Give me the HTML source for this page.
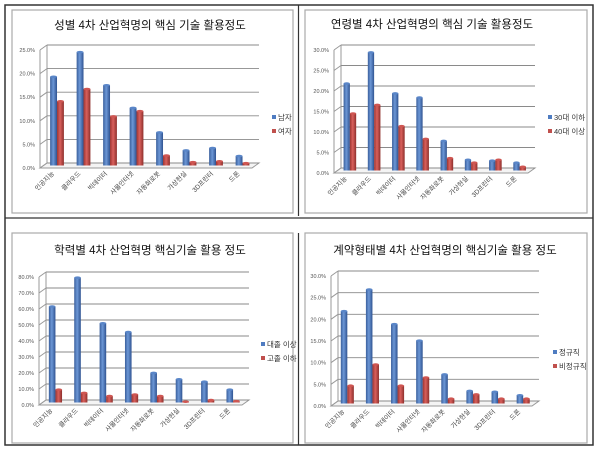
<!DOCTYPE html>
<html><head><meta charset="utf-8">
<style>
html,body{margin:0;padding:0;background:#fff;}
body{width:600px;height:452px;position:relative;overflow:hidden;font-family:"Liberation Sans","Noto Sans CJK KR",sans-serif;}
svg{position:absolute;left:0;top:0;}
</style></head>
<body>
<svg id="root" width="600" height="452">
<defs>
<linearGradient id="gb" x1="0" x2="1" y1="0" y2="0"><stop offset="0" stop-color="#3a5f9c"/><stop offset="0.45" stop-color="#6c97d6"/><stop offset="1" stop-color="#2f5391"/></linearGradient>
<linearGradient id="gr" x1="0" x2="1" y1="0" y2="0"><stop offset="0" stop-color="#9c3431"/><stop offset="0.45" stop-color="#d9605c"/><stop offset="1" stop-color="#8e2f2c"/></linearGradient>
</defs>
<rect x="5" y="5" width="588" height="440" fill="none" stroke="#333" stroke-width="1.5"/>
<line x1="5" y1="218" x2="593" y2="218" stroke="#333" stroke-width="1.2"/>
<line x1="298.5" y1="5" x2="298.5" y2="216" stroke="#333" stroke-width="1.2"/>
<line x1="298.5" y1="233" x2="298.5" y2="445" stroke="#333" stroke-width="1.2"/>
<g id="charts"></g>
</svg>
<script>
const categories = ["인공지능","클라우드","빅데이터","사물인터넷","자동화로봇","가상현실","3D프린터","드론"];
const genderMale = [18.8,24.0,17.0,12.2,7.0,3.2,3.7,2.0];
const genderFemale = [13.6,16.2,10.4,11.5,2.1,0.7,0.9,0.5];
const ageYoung = [21.2,28.8,18.8,17.8,7.2,2.6,2.4,1.9];
const ageOld = [13.9,16.0,10.8,7.7,3.0,1.9,2.6,0.9];
const eduCollege = [60,78,49.5,44,18.5,14.5,13,8];
const eduHigh = [8,6,4,5,4,0.5,1.5,0.8];
const contractRegular = [21.3,26.3,18.3,14.5,6.7,2.9,2.7,1.9];
const contractIrregular = [4.1,9.0,4.1,6.0,1.1,2.1,1.1,1.1];
const ticks25 = [0,5,10,15,20,25];
const ticks30 = [0,5,10,15,20,25,30];
const ticks80 = [0,10,20,30,40,50,60,70,80];

const NS="http://www.w3.org/2000/svg";
const root=document.getElementById('charts');
function mk(tag,attrs,parent){const e=document.createElementNS(NS,tag);for(const k in attrs)e.setAttribute(k,attrs[k]);(parent||root).appendChild(e);return e;}

function drawChart(cfg){
  const g=mk('g',{});
  
  
  const box=mk('rect',{x:cfg.bx,y:cfg.by,width:cfg.bw,height:cfg.bh,fill:'#fff',stroke:'#aaa','stroke-width':1.2},g);
  
  
  const t=mk('text',{x:cfg.tx,y:cfg.ty,'text-anchor':'middle','font-size':11.5,fill:'#111','font-family':'"Liberation Sans","Noto Sans CJK KR",sans-serif'},g);
  t.textContent=cfg.title;
  
  
  const dx=7,dy=5;
  const maxV=cfg.ticks[cfg.ticks.length-1];
  const yS=v=>cfg.y0-(v/maxV)*(cfg.y0-cfg.yTop);
  mk('line',{x1:cfg.ax+dx,y1:yS(maxV)-dy,x2:cfg.ax+dx,y2:cfg.y0-dy,stroke:'#999'},g);
  mk('polygon',{points:`${cfg.ax},${cfg.y0} ${cfg.ax+dx},${cfg.y0-dy} ${cfg.xEnd+dx},${cfg.y0-dy} ${cfg.xEnd},${cfg.y0}`,fill:'#f4f4f4',stroke:'#999'},g);
  mk('line',{x1:cfg.ax,y1:yS(maxV),x2:cfg.ax,y2:cfg.y0,stroke:'#999'},g);
  cfg.ticks.forEach(v=>{
    const y=yS(v);
    const gl=mk('line',{x1:cfg.ax+dx,y1:y-dy,x2:cfg.xEnd+dx,y2:y-dy,stroke:'#8a8a8a','stroke-width':0.9},g);
    
    
    mk('line',{x1:cfg.ax,y1:y,x2:cfg.ax+dx,y2:y-dy,stroke:'#999'},g);
    const lb=mk('text',{x:cfg.ax-5,y:y+2,'text-anchor':'end','font-size':5.5,fill:'#555'},g);
    lb.textContent=v.toFixed(1)+'%';
    
    
  });
  const cw=(cfg.xEnd-cfg.ax)/categories.length;
  const bw=cw*0.26;
  categories.forEach((c,i)=>{
    const x0=cfg.ax+i*cw+cw*0.25+dx/2;
    [[cfg.s1[i],'url(#gb)','#5a86c8','bar-series1'],[cfg.s2[i],'url(#gr)','#cf5652','bar-series2']].forEach((s,j)=>{
      const x=x0+j*bw, yt=yS(s[0])-dy/2, yb=cfg.y0-dy/2;
      const r=mk('rect',{x:x,y:yt,width:bw,height:Math.max(0,yb-yt),fill:s[1]},g);
      
      
      mk('ellipse',{cx:x+bw/2,cy:yt,rx:bw/2,ry:1.3,fill:s[2]},g);
    });
    const lx=cfg.ax+i*cw+cw*0.55, ly=cfg.y0+6;
    const tl=mk('text',{x:lx,y:ly,'text-anchor':'end','font-size':6.5,fill:'#444',transform:`rotate(-45 ${lx} ${ly})`},g);
    tl.textContent=c;
    
    
  });
  [[cfg.l1,'#4f7cc1'],[cfg.l2,'#c0504d']].forEach((l,j)=>{
    const y=cfg.ly+j*14;
    const sq=mk('rect',{x:cfg.lx,y:y-5,width:4,height:4,fill:l[1]},g);
    
    
    const lt=mk('text',{x:cfg.lx+6,y:y,'font-size':7.5,fill:'#333'},g);
    lt.textContent=l[0];
    
    
  });
}

drawChart({name:'gender-chart',bx:12,by:10,bw:281,bh:203,tx:150,ty:29,title:'성별 4차 산업혁명의 핵심 기술 활용정도',ax:40,y0:168,yTop:50,xEnd:252,ticks:ticks25,s1:genderMale,s2:genderFemale,l1:'남자',l2:'여자',lx:272,ly:120});
drawChart({name:'age-chart',bx:305,by:10,bw:282,bh:203,tx:432,ty:28,title:'연령별  4차 산업혁명의 핵심 기술 활용정도',ax:334,y0:173,yTop:50,xEnd:528,ticks:ticks30,s1:ageYoung,s2:ageOld,l1:'30대 이하',l2:'40대 이상',lx:548,ly:120});
drawChart({name:'education-chart',bx:12,by:233,bw:281,bh:210,tx:150,ty:254,title:'학력별 4차 산업혁명 핵심기술 활용 정도',ax:39,y0:405,yTop:277,xEnd:242,ticks:ticks80,s1:eduCollege,s2:eduHigh,l1:'대졸 이상',l2:'고졸 이하',lx:261,ly:347});
drawChart({name:'contract-chart',bx:305,by:233,bw:282,bh:210,tx:445,ty:254,title:'계약형태별 4차 산업혁명의 핵심기술 활용 정도',ax:331,y0:406,yTop:276,xEnd:532,ticks:ticks30,s1:contractRegular,s2:contractIrregular,l1:'정규직',l2:'비정규직',lx:553,ly:355});
</script>
</body></html>
